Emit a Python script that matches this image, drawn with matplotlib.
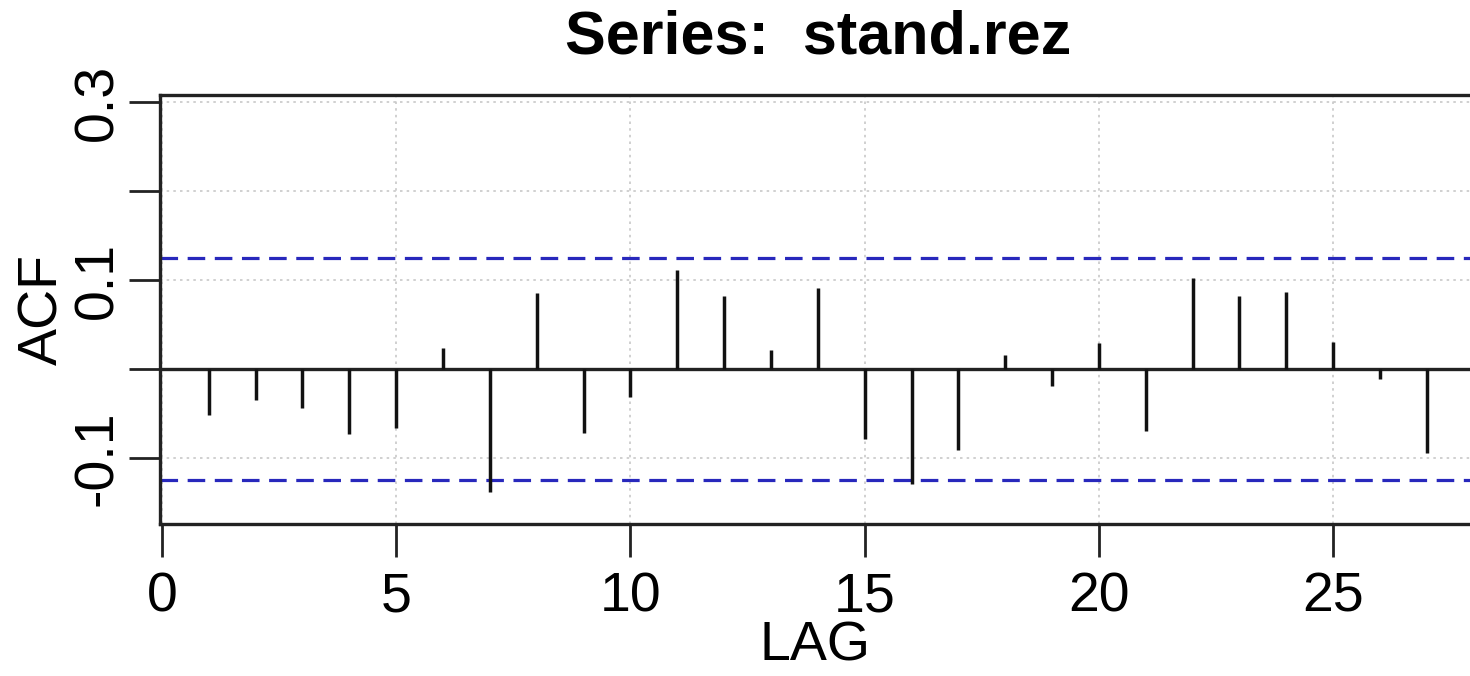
import matplotlib
matplotlib.use('Agg')
import matplotlib.pyplot as plt
import numpy as np

# ACF of the standardized residuals
lags = np.arange(1, 28)
acf = [-0.051, -0.035, -0.044, -0.073, -0.066, 0.024, -0.138, 0.085,
       -0.072, -0.031, 0.111, 0.082, 0.021, 0.091, -0.078, -0.129,
       -0.091, 0.016, -0.019, 0.029, -0.070, 0.102, 0.082, 0.087,
       0.030, -0.011, -0.094]
conf_bound = 0.125
x_ticks = [0, 5, 10, 15, 20, 25]
y_ticks = [-0.1, 0.0, 0.1, 0.2, 0.3]
y_labels = ['-0.1', '', '0.1', '', '0.3']

plt.rcParams['font.family'] = ['Liberation Sans', 'DejaVu Sans']

W, H = 1470, 676
fig = plt.figure(figsize=(W / 100, H / 100), dpi=100)
ax = fig.add_axes([160 / W, 1 - 524 / H, 1 - 160 / W, (524 - 95) / H])

# grid (dotted, light gray)
for y in y_ticks:
    ax.axhline(y, color='#c8c8c8', lw=1.2, ls=(0, (1.5, 2.5)), zorder=0)
for x in x_ticks:
    ax.axvline(x, color='#c8c8c8', lw=1.2, ls=(0, (1.5, 2.5)), zorder=0)

ax.axhline(0, color='#222222', lw=2.4, zorder=2)
ax.vlines(lags, 0, acf, color='#111111', lw=2.5, zorder=3)
ax.axhline(conf_bound, color='#2828bc', lw=2.3, ls=(0, (5.5, 3)), zorder=2)
ax.axhline(-conf_bound, color='#2828bc', lw=2.3, ls=(0, (5.5, 3)), zorder=2)

ax.set_xlim(-0.04, 27.92)
ax.set_ylim(-0.174, 0.308)
ax.set_xticks(x_ticks)
ax.set_yticks(y_ticks)
ax.set_yticklabels(y_labels, rotation=90, va='center')

ax.tick_params(axis='x', length=24, width=2, pad=10, labelsize=40,
               color='#222222')
ax.tick_params(axis='y', length=22, width=2, pad=4, labelsize=40,
               color='#222222')
for s in ['left', 'top', 'bottom']:
    ax.spines[s].set_linewidth(2.4)
    ax.spines[s].set_color('#222222')
ax.spines['right'].set_visible(False)

ax.set_xlabel('LAG', fontsize=40, labelpad=-2)
ax.set_ylabel('ACF', fontsize=40, labelpad=2)

fig.text(818 / W, 1 - 38 / H, 'Series:  stand.rez', fontsize=44,
         fontweight='bold', ha='center', va='center')

fig.savefig('out.png', dpi=100)
